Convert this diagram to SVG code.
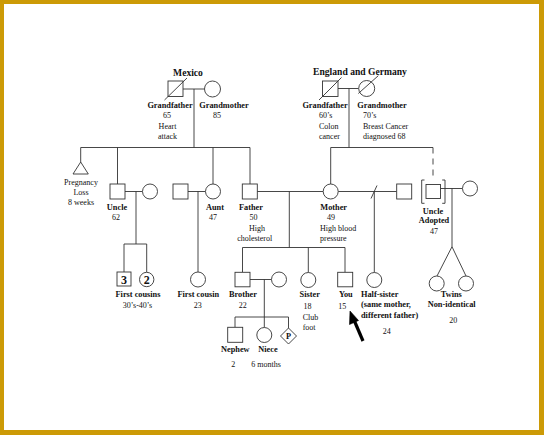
<svg xmlns="http://www.w3.org/2000/svg" width="544" height="435" viewBox="0 0 544 435">
<style>
text{font-family:"Liberation Serif","Times New Roman",serif;fill:#111}
.t{font-size:9.6px;font-weight:bold}
.b{font-size:8.3px;font-weight:bold}
.r{font-size:8px}
.c{text-anchor:middle}
.s{fill:#fff;stroke:#333;stroke-width:0.9}
.l{fill:none;stroke:#333;stroke-width:0.9}
.n{font-size:12px;font-weight:bold;text-anchor:middle}
</style>
<rect x="0" y="0" width="544" height="435" fill="#CC9A06"/>
<rect x="4" y="4" width="535" height="426" fill="#fff"/>

<g id="connectors" class="l">
  <!-- Mexico grandparents -->
  <path d="M183,89 H204.5 M194,89 V147.5 M80.7,147.5 H250 M80.7,147.5 V162 M117.5,147.5 V184 M213,147.5 V184 M250,147.5 V184"/>
  <!-- England grandparents -->
  <path d="M338,88.5 H358.7 M349,88.5 V147.5 M330.7,147.5 H433 M330.7,147.5 V184"/>
  <path d="M433,147.5 V179" stroke-dasharray="6,5"/>
  <!-- Uncle couple -->
  <path d="M125,191.5 H142.5 M136,191.5 V244 M124,244 H146.7 M124,244 V272 M146.7,244 V272.3"/>
  <!-- Aunt couple -->
  <path d="M188,191.5 H205.5 M198,191.5 V272"/>
  <!-- Father / Mother -->
  <path d="M257,191.5 H323.2 M289.3,191.5 V247.5 M242.5,247.5 H345 M242.5,247.5 V272.3 M308.3,247.5 V272.5 M345,247.5 V272.3"/>
  <!-- Mother / second husband -->
  <path d="M338.2,191.5 H396.7 M374.3,191.5 V272.5 M371,198.5 L377,185.5"/>
  <!-- Adopted uncle -->
  <path d="M440.5,188.5 H462.5 M452,188.5 V246.7 L437,276 M452,246.7 L466,276"/>
  <!-- Brother couple -->
  <path d="M250,279.5 H271.5 M264.3,279.5 V317 M235,317 H288.5 M235,317 V327.3 M264.3,317 V327.5 M288.5,317 V328"/>
  <!-- Arrow -->
  <line x1="363" y1="341" x2="354" y2="320" stroke="#000" stroke-width="3.2"/>
  <polygon points="350,311 349.5,324.5 358.5,320.5" fill="#000" stroke="#000" stroke-width="0.6"/>
</g>

<g id="title-mexico"><text class="t c" x="188" y="76">Mexico</text></g>
<g id="title-england"><text class="t c" x="360" y="75">England and Germany</text></g>

<g id="grandfather-mx">
  <rect class="s" x="168" y="81" width="15" height="15.5"/>
  <line class="l" x1="164.5" y1="100" x2="187" y2="78"/>
  <text class="b c" x="170" y="108">Grandfather</text>
  <text class="r c" x="167" y="118">65</text>
  <text class="r c" x="167.5" y="128.5">Heart</text>
  <text class="r c" x="167.5" y="139">attack</text>
</g>
<g id="grandmother-mx">
  <circle class="s" cx="212.5" cy="89" r="8"/>
  <text class="b c" x="224" y="108">Grandmother</text>
  <text class="r c" x="217" y="118">85</text>
</g>

<g id="grandfather-en">
  <rect class="s" x="322.5" y="81" width="15.5" height="15.5"/>
  <line class="l" x1="319" y1="100" x2="341.5" y2="77.5"/>
  <text class="b c" x="325" y="108">Grandfather</text>
  <text class="r" x="319" y="118">60’s</text>
  <text class="r" x="319" y="128.5">Colon</text>
  <text class="r" x="319" y="139">cancer</text>
</g>
<g id="grandmother-en">
  <circle class="s" cx="366.7" cy="88.5" r="8"/>
  <line class="l" x1="358.3" y1="93.5" x2="378.3" y2="75.7"/>
  <text class="b c" x="382" y="108">Grandmother</text>
  <text class="r" x="363" y="118">70’s</text>
  <text class="r" x="363" y="128.5">Breast Cancer</text>
  <text class="r" x="363" y="139">diagnosed 68</text>
</g>

<g id="pregnancy-loss">
  <polygon class="s" points="80.7,162 73,174 88.3,174"/>
  <text class="r c" x="81" y="185">Pregnancy</text>
  <text class="r c" x="81" y="195">Loss</text>
  <text class="r c" x="81" y="205">8 weeks</text>
</g>

<g id="uncle">
  <rect class="s" x="110" y="184" width="15" height="15"/>
  <text class="b c" x="117" y="210">Uncle</text>
  <text class="r c" x="116" y="220">62</text>
</g>
<g id="uncle-wife"><circle class="s" cx="150" cy="191.5" r="7.5"/></g>

<g id="aunt-husband"><rect class="s" x="173" y="184" width="15" height="15"/></g>
<g id="aunt">
  <circle class="s" cx="213" cy="191.5" r="7.5"/>
  <text class="b c" x="215" y="210">Aunt</text>
  <text class="r c" x="213" y="220">47</text>
</g>

<g id="father">
  <rect class="s" x="242.3" y="184" width="15" height="15"/>
  <text class="b c" x="251" y="210">Father</text>
  <text class="r c" x="253.5" y="220">50</text>
  <text class="r c" x="257" y="231">High</text>
  <text class="r c" x="254.7" y="241">cholesterol</text>
</g>
<g id="mother">
  <circle class="s" cx="330.7" cy="191.5" r="7.5"/>
  <text class="b c" x="333.7" y="210">Mother</text>
  <text class="r c" x="331" y="220">49</text>
  <text class="r" x="320" y="231">High blood</text>
  <text class="r" x="320" y="241">pressure</text>
</g>
<g id="mother-second-husband"><rect class="s" x="396.7" y="184" width="15" height="15"/></g>

<g id="uncle-adopted">
  <path class="l" d="M424.5,180 H421.7 V203.3 H424.5 M442.2,180 H445 V203.3 H442.2"/>
  <rect class="s" x="426" y="184.5" width="14.5" height="14"/>
  <text class="b c" x="433" y="214">Uncle</text>
  <text class="b c" x="434" y="223">Adopted</text>
  <text class="r c" x="434" y="234">47</text>
</g>
<g id="uncle-adopted-wife"><circle class="s" cx="470" cy="188.5" r="7.5"/></g>

<g id="first-cousins">
  <rect class="s" x="117" y="272" width="14" height="14"/>
  <text class="n" x="124" y="283.5">3</text>
  <circle class="s" cx="146.7" cy="279.5" r="7.2"/>
  <text class="n" x="146.7" y="283.8">2</text>
  <text class="b c" x="138" y="297">First cousins</text>
  <text class="r c" x="137.5" y="308">30’s-40’s</text>
</g>
<g id="first-cousin">
  <circle class="s" cx="198" cy="279.5" r="7.5"/>
  <text class="b c" x="198.3" y="297">First cousin</text>
  <text class="r c" x="197.7" y="308">23</text>
</g>

<g id="brother">
  <rect class="s" x="235" y="272.3" width="15" height="14.5"/>
  <text class="b c" x="243" y="297">Brother</text>
  <text class="r c" x="242.7" y="308">22</text>
</g>
<g id="brother-wife"><circle class="s" cx="279" cy="279.5" r="7.5"/></g>
<g id="sister">
  <circle class="s" cx="308.3" cy="280" r="7.5"/>
  <text class="b c" x="309.7" y="297">Sister</text>
  <text class="r c" x="307.5" y="309">18</text>
  <text class="r" x="302.7" y="319.5">Club</text>
  <text class="r" x="302.7" y="329.5">foot</text>
</g>
<g id="you">
  <rect class="s" x="337.7" y="272.3" width="15" height="14.5"/>
  <text class="b c" x="345.8" y="297">You</text>
  <text class="r" x="338.3" y="308.5">15</text>
</g>
<g id="half-sister">
  <circle class="s" cx="374.3" cy="280" r="7.5"/>
  <text class="b" x="361" y="297">Half-sister</text>
  <text class="b" x="361" y="307">(same mother,</text>
  <text class="b" x="361" y="317.5">different father)</text>
  <text class="r c" x="386.7" y="333.5">24</text>
</g>
<g id="twins">
  <circle class="s" cx="436.7" cy="283.5" r="7.5"/>
  <circle class="s" cx="466" cy="283.5" r="7.5"/>
  <text class="b c" x="451.3" y="297">Twins</text>
  <text class="b c" x="451.7" y="307">Non-identical</text>
  <text class="r c" x="453.3" y="323">20</text>
</g>

<g id="nephew">
  <rect class="s" x="227.7" y="327.3" width="15" height="15"/>
  <text class="b c" x="235.3" y="352">Nephew</text>
  <text class="r c" x="233.3" y="366.5">2</text>
</g>
<g id="niece">
  <circle class="s" cx="264.3" cy="335" r="7.5"/>
  <text class="b c" x="268" y="352">Niece</text>
  <text class="r c" x="266" y="366.5">6 months</text>
</g>
<g id="pregnancy-p">
  <polygon class="s" points="288.5,328 296.5,336 288.5,344 280.5,336"/>
  <text class="b c" x="288.5" y="339.3">P</text>
</g>
</svg>
